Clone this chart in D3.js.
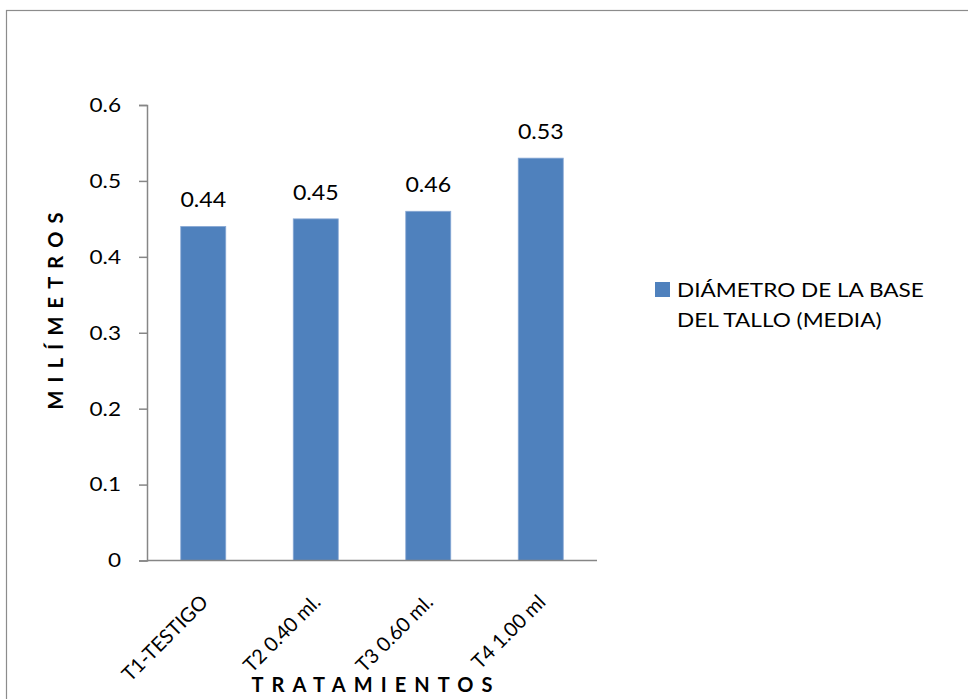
<!DOCTYPE html>
<html>
<head>
<meta charset="utf-8">
<script src="https://cdn.jsdelivr.net/npm/d3@7"></script>
<style>
  html, body { margin: 0; padding: 0; background: #fff; }
  svg { display: block; font-family: Lato, "Open Sans", sans-serif; }
</style>
</head>
<body>
<svg id="chart" width="968" height="699"></svg>
<script>
// Treatments and mean stem-base diameter
const categories = ["T1-TESTIGO", "T2 0.40 ml.", "T3 0.60 ml.", "T4 1.00 ml"];
const values = [0.44, 0.45, 0.46, 0.53];
const yTicks = [0, 0.1, 0.2, 0.3, 0.4, 0.5, 0.6];
const seriesName = ["DIÁMETRO DE LA BASE", "DEL TALLO (MEDIA)"];
const yTitle = "MILÍMETROS";
const xTitle = "TRATAMIENTOS";

const svg = d3.select("#chart");
const barColor = "#4f81bd";
const axisColor = "#868686";
const stretch = 1.13; // slightly wide lettering

// Outer chart frame
svg.append("rect")
  .attr("x", 6.5).attr("y", 10.5)
  .attr("width", 1000).attr("height", 1000)
  .attr("fill", "none").attr("stroke", "#8c8c8c").attr("stroke-width", 1.2);

const plot = { left: 147, right: 597, top: 105, bottom: 560.5 };

const x = d3.scaleBand()
  .domain(categories)
  .range([plot.left, plot.right])
  .paddingInner(0.6).paddingOuter(0.3);

const y = d3.scaleLinear()
  .domain([0, 0.6])
  .range([plot.bottom, plot.top]);

// Y axis
const yAxis = svg.append("g")
  .attr("transform", `translate(${plot.left},0)`)
  .call(d3.axisLeft(y).tickValues(yTicks).tickSize(8).tickPadding(18)
    .tickFormat(d => d === 0 ? "0" : d3.format(".1f")(d)));
yAxis.select(".domain").attr("stroke", axisColor).attr("stroke-width", 1.5);
yAxis.selectAll(".tick line").attr("stroke", axisColor).attr("stroke-width", 1.5);
yAxis.selectAll(".tick text")
  .attr("fill", "#000").attr("font-size", 20).attr("font-family", "Lato, sans-serif")
  .attr("x", 0)
  .attr("transform", `translate(-26,0) scale(${stretch},1)`);

// Bars
svg.append("g").selectAll("rect")
  .data(values)
  .join("rect")
  .attr("x", (d, i) => x(categories[i]))
  .attr("y", d => y(d))
  .attr("width", x.bandwidth())
  .attr("height", d => y(0) - y(d))
  .attr("fill", barColor)
  .attr("stroke", "#88a8d4").attr("stroke-width", 0.8);

// Value labels
svg.append("g").selectAll("text")
  .data(values)
  .join("text")
  .attr("transform", (d, i) =>
    `translate(${x(categories[i]) + x.bandwidth() / 2},${y(d) - 19}) scale(${stretch},1)`)
  .attr("text-anchor", "middle")
  .attr("font-size", 20.5)
  .attr("fill", "#000")
  .text(d => d3.format(".2f")(d));

// X axis with diagonal category labels
const xAxis = svg.append("g")
  .attr("transform", `translate(0,${plot.bottom})`)
  .call(d3.axisBottom(x).tickSize(0).tickSizeOuter(0).tickPadding(0));
xAxis.select(".domain").attr("stroke", axisColor).attr("stroke-width", 1.5)
  .attr("d", `M${plot.left},0H${plot.right}`);
xAxis.selectAll(".tick text")
  .attr("fill", "#000").attr("font-size", 20).attr("font-family", "Lato, sans-serif")
  .attr("text-anchor", "end")
  .attr("y", 0).attr("dy", 0)
  .attr("transform", "translate(6,43) rotate(-45)");

// Axis titles
svg.append("text")
  .attr("transform", "translate(63,311) rotate(-90)")
  .attr("text-anchor", "middle")
  .attr("font-size", 20).attr("font-weight", "bold")
  .attr("textLength", 197).attr("lengthAdjust", "spacing")
  .attr("fill", "#000")
  .text(yTitle);

svg.append("text")
  .attr("x", 372).attr("y", 692)
  .attr("text-anchor", "middle")
  .attr("font-size", 20).attr("font-weight", "bold")
  .attr("textLength", 241).attr("lengthAdjust", "spacing")
  .attr("fill", "#000")
  .text(xTitle);

// Legend
const legend = svg.append("g");
legend.append("rect")
  .attr("x", 655).attr("y", 282).attr("width", 15).attr("height", 15)
  .attr("fill", barColor);
legend.selectAll("text")
  .data(seriesName)
  .join("text")
  .attr("transform", (d, i) => `translate(677,${297 + i * 29.5}) scale(${stretch},1)`)
  .attr("font-size", 20)
  .attr("fill", "#000")
  .text(d => d);
</script>
</body>
</html>
